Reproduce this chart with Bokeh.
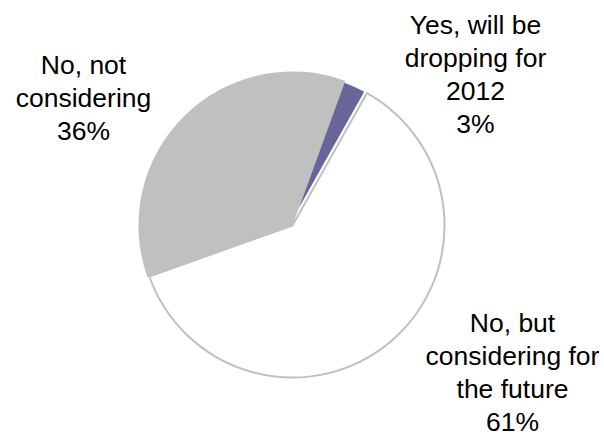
import math
from bokeh.plotting import figure
from bokeh.models import Range1d, ColumnDataSource
from bokeh.core.properties import value
from bokeh.embed import file_html
from bokeh.resources import INLINE

# ---- data ----
categories = ["Yes, will be\ndropping for\n2012",
              "No, but\nconsidering for\nthe future",
              "No, not\nconsidering"]
shares = [2.6, 61.4, 36.0]
colors = ["#666699", "#FFFFFF", "#C0C0C0"]

W, H = 604, 434
p = figure(width=W, height=H, output_backend="svg", toolbar_location=None,
           x_range=Range1d(0, W), y_range=Range1d(0, H), min_border=0)
p.axis.visible = False
p.grid.visible = False
p.outline_line_color = None
p.background_fill_color = "white"
p.border_fill_color = "white"

cx, cy = 292, H - 225
R = 152
start_deg = 20.0  # clockwise from 12 o'clock

total = sum(shares)
angles = []
a = start_deg
for s in shares:
    b = a + s / total * 360.0
    angles.append((a, b))
    a = b

def bk(deg):
    return math.radians(90.0 - deg)

# grey slice (No, not considering)
a0, a1 = angles[2]
p.wedge(x=cx, y=cy, radius=R + 2, start_angle=bk(a0), end_angle=bk(a1),
        direction="clock", fill_color=colors[2], line_color=None)
# white slice with grey outline
a0, a1 = angles[1]
p.wedge(x=cx, y=cy, radius=R, start_angle=bk(a0), end_angle=bk(a1),
        direction="clock", fill_color=colors[1], line_color="#C0C0C0", line_width=2)
# purple slice, offset slightly out along its leading edge
a0, a1 = angles[0]
off = 19
ox = cx + off * math.sin(math.radians(a0))
oy = cy + off * math.cos(math.radians(a0))
p.wedge(x=ox, y=oy, radius=R - off, start_angle=bk(a0), end_angle=bk(a1),
        direction="clock", fill_color=colors[0], line_color=None)

# labels, one text per line
block_x = [475, 512, 83]
block_y = [74, 372, 97]   # block centres, pixels from top
spacing = 33
xs, ys, ts = [], [], []
for c, s, bx, by in zip(categories, shares, block_x, block_y):
    lines = c.split("\n") + [f"{round(s)}%"]
    n = len(lines)
    for i, ln in enumerate(lines):
        xs.append(bx)
        ys.append(H - (by + (i - (n - 1) / 2) * spacing))
        ts.append(ln)
src = ColumnDataSource(dict(x=xs, y=ys, t=ts))
p.text(x="x", y="y", text="t", source=src, text_align="center",
       text_baseline="middle", text_font=value("Liberation Sans"),
       text_font_size="26.5px", text_color="black")

open("out.html", "w").write(file_html(p, INLINE))
